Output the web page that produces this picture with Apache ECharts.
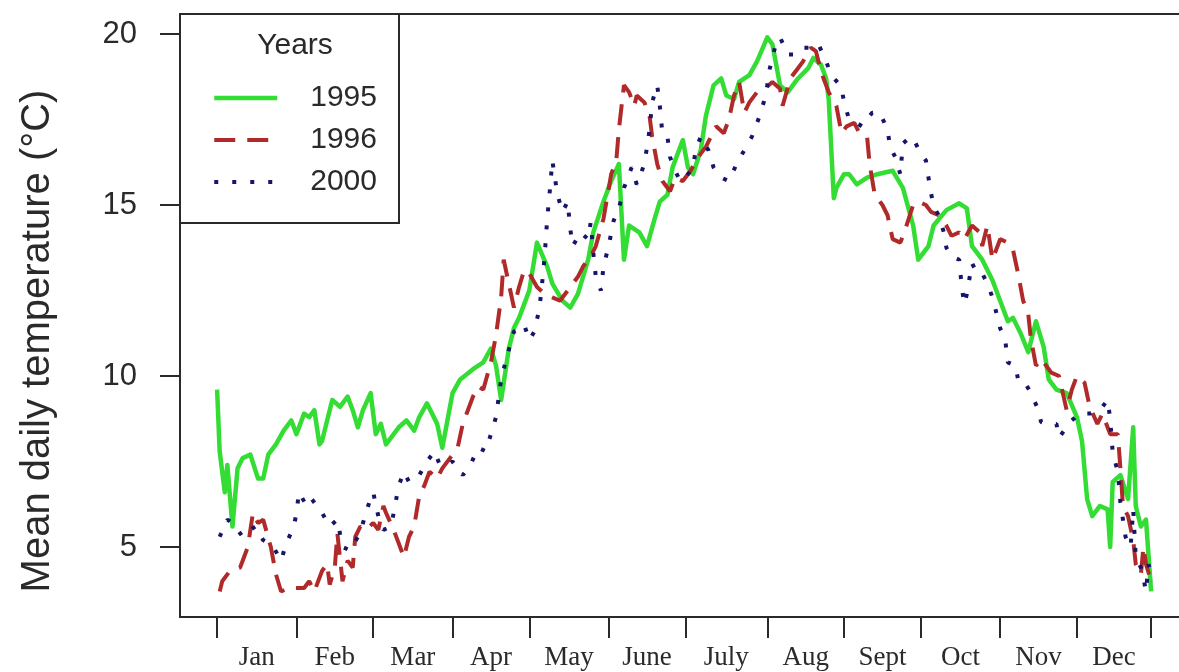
<!DOCTYPE html>
<html>
<head>
<meta charset="utf-8">
<script src="https://cdn.jsdelivr.net/npm/echarts@6/dist/echarts.min.js"></script>
<style>
  html, body { margin: 0; padding: 0; background: #fff; }
  #chart { width: 1179px; height: 672px; }
</style>
</head>
<body>
<div id="chart"></div>
<script>
// month axis
var monthLabels = ['Jan', 'Feb', 'Mar', 'Apr', 'May', 'June', 'July', 'Aug', 'Sept', 'Oct', 'Nov', 'Dec']
var monthTickDays = [1, 32, 62, 93, 123, 154, 184, 216, 246, 276, 307, 337, 366]
var yTicks = [5, 10, 15, 20]

// 1995
var days1995 = [1, 2, 4, 5, 7, 9, 11, 14, 17, 19, 21, 24, 27, 30, 32, 35, 37, 39, 41, 42, 44, 46, 49, 52, 54, 56, 58, 61, 63, 65, 67, 70, 72, 75, 78, 80, 83, 87, 89, 93, 96, 101, 105, 108, 110, 112, 115, 117, 119, 123, 126, 130, 132, 136, 139, 142, 146, 148, 152, 155, 158, 160, 162, 166, 169, 172, 174, 177, 179, 183, 185, 187, 190, 192, 195, 198, 200, 203, 205, 209, 212, 216, 218, 221, 224, 228, 232, 234, 237, 239, 240, 242, 243, 246, 248, 251, 255, 259, 265, 269, 273, 275, 279, 281, 286, 291, 294, 296, 300, 304, 307, 310, 312, 315, 318, 321, 324, 326, 329, 333, 337, 339, 341, 343, 346, 349, 350, 351, 354, 357, 359, 360, 362, 364, 366]
var temp1995 = [9.6, 7.8, 6.6, 7.4, 5.6, 7.3, 7.6, 7.7, 7.0, 7.0, 7.7, 8.0, 8.4, 8.7, 8.3, 8.9, 8.8, 9.0, 8.0, 8.1, 8.7, 9.3, 9.1, 9.4, 9.0, 8.5, 9.0, 9.5, 8.3, 8.6, 8.0, 8.3, 8.5, 8.7, 8.4, 8.8, 9.2, 8.6, 7.9, 9.5, 9.9, 10.2, 10.4, 10.8, 10.3, 9.3, 10.8, 11.4, 11.7, 12.5, 13.9, 13.2, 12.7, 12.2, 12.0, 12.4, 13.4, 14.2, 15.1, 15.7, 16.2, 13.4, 14.4, 14.2, 13.8, 14.6, 15.1, 15.3, 16.1, 16.9, 16.1, 15.9, 16.6, 17.6, 18.5, 18.7, 18.2, 18.1, 18.6, 18.8, 19.2, 19.9, 19.7, 18.5, 18.3, 18.7, 19.0, 19.3, 19.1, 18.7, 18.1, 15.2, 15.5, 15.9, 15.9, 15.6, 15.8, 15.9, 16.0, 15.5, 14.4, 13.4, 13.8, 14.4, 14.85, 15.05, 14.9, 13.8, 13.4, 12.8, 12.2, 11.6, 11.7, 11.25, 10.7, 11.6, 10.85, 9.9, 9.6, 9.5, 8.8, 8.1, 6.4, 5.9, 6.2, 6.1, 5.0, 6.9, 7.1, 6.4, 8.5, 6.2, 5.6, 5.8, 3.7]

// 1996
var days1996 = [2, 3, 6, 10, 13, 15, 17, 19, 22, 24, 26, 29, 32, 35, 37, 39, 42, 44, 45, 47, 48, 50, 52, 54, 55, 57, 59, 62, 64, 66, 67, 70, 72, 74, 76, 78, 80, 82, 84, 87, 89, 92, 95, 97, 99, 101, 103, 105, 108, 110, 112, 113, 115, 117, 119, 121, 123, 126, 129, 132, 135, 138, 142, 144, 147, 149, 152, 155, 157, 158, 160, 162, 164, 165, 168, 170, 171, 173, 175, 178, 180, 183, 186, 189, 192, 194, 196, 199, 201, 203, 205, 207, 209, 212, 215, 218, 221, 222, 225, 228, 230, 233, 235, 237, 240, 243, 245, 247, 250, 252, 255, 256, 258, 261, 263, 265, 268, 270, 273, 275, 278, 280, 283, 286, 288, 291, 293, 296, 299, 300, 302, 304, 307, 310, 312, 314, 316, 318, 319, 321, 323, 325, 327, 330, 333, 335, 337, 340, 342, 345, 347, 350, 353, 354, 355, 357, 359, 360, 362, 363, 364, 366]
var temp1996 = [3.7, 4.0, 4.3, 4.4, 5.0, 6.0, 5.7, 5.8, 5.0, 4.2, 3.7, 3.8, 3.8, 3.8, 4.0, 3.7, 4.3, 4.5, 3.9, 4.4, 5.4, 4.0, 4.6, 4.4, 5.3, 5.6, 5.5, 5.7, 5.5, 6.2, 6.0, 5.5, 5.1, 4.7, 5.3, 5.6, 6.5, 6.8, 7.2, 7.0, 7.3, 7.6, 7.9, 8.6, 9.0, 9.4, 9.7, 9.6, 10.4, 11.2, 12.3, 13.4, 12.7, 12.0, 12.6, 13.1, 13.0, 12.6, 12.4, 12.3, 12.2, 12.5, 12.9, 13.2, 13.5, 13.8, 14.6, 15.9, 16.3, 17.2, 18.5, 18.3, 17.9, 18.2, 18.0, 17.6, 17.0, 16.2, 15.7, 15.4, 15.8, 15.7, 16.0, 16.4, 16.7, 17.0, 17.3, 17.1, 17.5, 18.2, 18.6, 17.7, 18.0, 18.3, 18.4, 18.6, 18.4, 17.9, 18.7, 19.0, 19.2, 19.6, 19.5, 18.9, 18.3, 17.9, 17.1, 17.3, 17.4, 17.1, 17.0, 16.2, 15.3, 15.0, 14.7, 14.0, 13.9, 14.3, 15.0, 15.1, 15.0, 14.8, 14.7, 14.4, 14.1, 14.2, 14.0, 14.4, 14.2, 13.8, 14.4, 13.4, 14.0, 13.9, 13.7, 13.0, 12.2, 11.8, 11.1, 10.3, 10.5, 10.3, 10.1, 10.0, 9.0, 9.6, 10.0, 9.8, 9.1, 8.6, 8.9, 8.3, 8.3, 7.3, 6.2, 5.9, 5.2, 4.5, 4.2, 5.0, 4.5, 4.0]

// 2000
var days2000 = [2, 5, 7, 11, 14, 16, 19, 23, 26, 28, 31, 32, 33, 36, 38, 40, 42, 45, 48, 50, 53, 56, 58, 60, 62, 64, 66, 69, 72, 74, 76, 80, 83, 86, 88, 91, 93, 97, 100, 103, 106, 108, 110, 112, 114, 117, 121, 123, 125, 127, 128, 129, 130, 131, 132, 134, 136, 138, 139, 140, 143, 146, 147, 148, 149, 151, 152, 154, 156, 158, 160, 163, 165, 168, 170, 171, 173, 174, 175, 177, 178, 180, 182, 184, 187, 188, 190, 193, 195, 198, 201, 204, 207, 210, 213, 215, 216, 217, 219, 221, 224, 227, 230, 234, 236, 239, 241, 245, 246, 248, 251, 253, 257, 260, 263, 264, 266, 268, 269, 272, 274, 276, 278, 279, 280, 281, 283, 285, 286, 288, 291, 292, 293, 294, 296, 298, 300, 302, 304, 307, 309, 310, 313, 314, 316, 319, 322, 323, 326, 329, 330, 333, 335, 338, 342, 346, 349, 350, 351, 353, 354, 355, 356, 358, 359, 360, 362, 363, 364, 365, 366]
var temp2000 = [5.3, 5.8, 5.7, 5.3, 5.5, 5.6, 5.2, 5.0, 4.6, 5.1, 5.6, 6.0, 6.6, 6.2, 6.4, 6.2, 6.0, 5.6, 5.8, 5.0, 4.9, 5.3, 5.7, 6.2, 6.6, 5.9, 5.5, 5.6, 6.8, 7.2, 6.9, 7.1, 7.5, 7.8, 7.4, 7.4, 7.5, 7.1, 7.4, 7.9, 7.8, 8.3, 8.8, 9.9, 10.5, 11.3, 11.5, 11.05, 11.3, 12.0, 12.7, 13.5, 14.6, 15.4, 16.3, 15.3, 14.8, 15.1, 14.3, 13.8, 14.2, 14.0, 14.5, 13.6, 12.9, 12.5, 13.2, 13.8, 14.55, 14.9, 15.5, 16.1, 15.6, 16.2, 17.2, 18.0, 18.5, 17.9, 17.1, 17.0, 16.4, 16.0, 15.7, 15.8, 16.1, 16.6, 17.0, 16.6, 16.1, 15.8, 15.7, 16.2, 16.6, 17.0, 17.6, 18.1, 18.5, 19.0, 19.6, 19.9, 19.4, 19.4, 19.6, 19.6, 19.7, 19.2, 18.8, 18.45, 18.0, 17.5, 17.4, 17.3, 17.7, 17.7, 17.2, 16.7, 16.4, 15.9, 16.8, 17.0, 16.8, 16.5, 16.3, 15.8, 15.35, 14.95, 14.7, 14.2, 13.75, 13.5, 13.4, 12.6, 12.1, 12.4, 13.3, 13.0, 13.0, 12.7, 12.3, 11.4, 11.05, 10.4, 10.3, 9.9, 9.9, 9.5, 9.0, 8.65, 8.6, 8.6, 8.2, 8.5, 8.7, 8.9, 8.9, 9.0, 9.3, 8.75, 7.75, 7.2, 6.3, 5.8, 5.3, 5.0, 6.1, 4.7, 4.4, 4.1, 3.7, 4.5, 4.0]

function pairs(days, temps) {
  return days.map(function (d, i) { return [d, temps[i]] })
}

// label positions in the middle of each month
var monthMidDays = []
for (var i = 0; i < monthLabels.length; i++) {
  monthMidDays.push((monthTickDays[i] + monthTickDays[i + 1]) / 2)
}

var axisColor = '#2a2a2a'
var xMin = -13.5
var xMax = 376.9

var chart = echarts.init(document.getElementById('chart'))
var option = {
  animation: false,
  backgroundColor: '#fff',
  grid: {
    left: 180,
    top: 14,
    right: 0,
    height: 603,
    show: false
  },
  title: {
    text: 'Years',
    left: 290,
    top: 26,
    textAlign: 'center',
    z: 10,
    textStyle: {
      fontFamily: 'Liberation Sans',
      fontSize: 30,
      fontWeight: 'normal',
      color: axisColor
    }
  },
  legend: {
    orient: 'vertical',
    left: 180,
    top: 14,
    padding: [69, 22, 26, 32],
    itemWidth: 63,
    itemHeight: 20,
    itemGap: 12,
    selectedMode: false,
    backgroundColor: '#fff',
    borderColor: axisColor,
    borderWidth: 2,
    itemStyle: { opacity: 0 },
    textStyle: {
      fontFamily: 'Liberation Sans',
      fontSize: 30,
      color: axisColor,
      padding: [0, 0, 0, 28]
    },
    data: [
      { name: '1995', lineStyle: { width: 4.5 } },
      { name: '1996', lineStyle: { width: 4 } },
      { name: '2000', lineStyle: { width: 4 } }
    ]
  },
  xAxis: [
    {
      type: 'value',
      min: xMin,
      max: xMax,
      position: 'bottom',
      splitLine: { show: false },
      axisLine: { show: true, onZero: false, lineStyle: { color: axisColor, width: 2 } },
      axisTick: {
        show: true,
        customValues: monthTickDays,
        length: 21,
        lineStyle: { color: axisColor, width: 2 }
      },
      axisLabel: {
        customValues: monthMidDays,
        margin: 27,
        fontFamily: 'Liberation Serif',
        fontSize: 27,
        color: axisColor,
        formatter: function (v) {
          var idx = monthMidDays.indexOf(v)
          return idx >= 0 ? monthLabels[idx] : ''
        }
      }
    },
    {
      // top edge of the box
      type: 'value',
      min: xMin,
      max: xMax,
      position: 'top',
      splitLine: { show: false },
      axisLine: { show: true, onZero: false, lineStyle: { color: axisColor, width: 2 } },
      axisTick: { show: false },
      axisLabel: { show: false }
    }
  ],
  yAxis: {
    type: 'value',
    min: 2.953,
    max: 20.585,
    splitLine: { show: false },
    axisLine: { show: true, onZero: false, lineStyle: { color: axisColor, width: 2 } },
    axisTick: {
      show: true,
      customValues: yTicks,
      length: 20,
      lineStyle: { color: axisColor, width: 2 }
    },
    axisLabel: {
      customValues: yTicks,
      margin: 43,
      fontFamily: 'Liberation Sans',
      fontSize: 31,
      color: axisColor
    }
  },
  graphic: [
    {
      type: 'text',
      x: 38,
      y: 341,
      rotation: Math.PI / 2,
      style: {
        text: 'Mean daily temperature (°C)',
        fontFamily: 'Liberation Sans',
        fontSize: 40,
        fill: axisColor,
        align: 'center',
        verticalAlign: 'middle'
      }
    }
  ],
  series: [
    {
      name: '1995',
      type: 'line',
      data: pairs(days1995, temp1995),
      showSymbol: false,
      symbol: 'none',
      color: '#33dd33',
      lineStyle: { color: '#33dd33', width: 4.5, type: 'solid', join: 'round' },
      z: 2
    },
    {
      name: '1996',
      type: 'line',
      data: pairs(days1996, temp1996),
      showSymbol: false,
      symbol: 'none',
      color: '#b02a2a',
      lineStyle: { color: '#b02a2a', width: 4, type: [21, 12], cap: 'butt' },
      z: 3
    },
    {
      name: '2000',
      type: 'line',
      data: pairs(days2000, temp2000),
      showSymbol: false,
      symbol: 'none',
      color: '#15156a',
      lineStyle: { color: '#15156a', width: 4, type: [4, 14], cap: 'butt' },
      z: 4
    }
  ]
}
option && chart.setOption(option)
</script>
</body>
</html>
